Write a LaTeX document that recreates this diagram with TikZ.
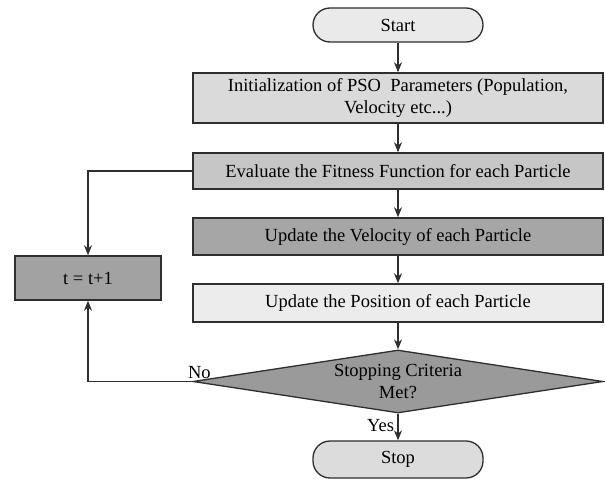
\documentclass[tikz,border=0pt]{standalone}
\usepackage{fontspec}
\setmainfont{Liberation Serif}
\usetikzlibrary{arrows.meta,shapes.geometric}
\definecolor{cstart}{HTML}{EAEAEA}
\definecolor{cinit}{HTML}{DADADA}
\definecolor{ceval}{HTML}{C6C6C6}
\definecolor{cvel}{HTML}{A6A6A6}
\definecolor{cpos}{HTML}{ECECEC}
\definecolor{cdec}{HTML}{9A9A9A}
\definecolor{ct}{HTML}{A2A2A2}
\definecolor{cstop}{HTML}{DCDCDC}
\definecolor{cline}{HTML}{2E2E2E}
\tikzset{
  every node/.style={font=\fontsize{18.5}{22}\selectfont, text=black},
  procbox/.style={draw=cline, line width=1.5pt, rectangle, minimum width=410pt, inner sep=0pt, align=center},
  termbox/.style={draw=cline, line width=1.3pt, rectangle, rounded corners=17pt, minimum width=170pt, inner sep=0pt},
  flow/.style={draw=cline, line width=1.4pt, -{Stealth[length=10pt,width=8pt]}},
}
\begin{document}
\begin{tikzpicture}[x=1pt,y=-1pt]
\fill[white] (0,0) rectangle (605,479);
\useasboundingbox (0,0) rectangle (605,479);
\node[termbox, fill=cstart, minimum height=34pt] (start) at (398,25) {Start};
\node[procbox, fill=cinit, minimum height=50pt] (init) at (398,98) {Initialization of PSO~ Parameters (Population,\\Velocity etc...)};
\node[procbox, fill=ceval, minimum height=36pt] (eval) at (398,171) {Evaluate the Fitness Function for each Particle};
\node[procbox, fill=cvel, minimum height=37pt] (vel) at (398,236.5) {Update the Velocity of each Particle};
\node[procbox, fill=cpos, minimum height=38pt] (pos) at (398,303) {Update the Position of each Particle};
\node[diamond, draw=cline, line width=1.3pt, fill=cdec, minimum width=410pt, minimum height=63pt, inner sep=0pt] (dec) at (398,381.5) {};
\node[align=center] (dectext) at (398,382) {Stopping Criteria\\Met?};
\node[termbox, fill=cstop, minimum height=37pt] (stop) at (398,459.5) {Stop};
\node[procbox, fill=ct, minimum width=146pt, minimum height=44pt] (tinc) at (88,278) {t = t+1};

\draw[flow] (start) -- (init);
\draw[flow] (init) -- (eval);
\draw[flow] (eval) -- (vel);
\draw[flow] (vel) -- (pos);
\draw[flow] (pos) -- (dec.north);
\draw[flow] (dec.south) -- node[left, pos=0.45] (yes) {Yes} (stop);
\draw[flow] (eval.west) -| (tinc.north);
\draw[flow] (dec.west) -| (tinc.south);
\node[anchor=south] (no) at ([xshift=7pt,yshift=-1pt]dec.west) {No};
\end{tikzpicture}
\end{document}
